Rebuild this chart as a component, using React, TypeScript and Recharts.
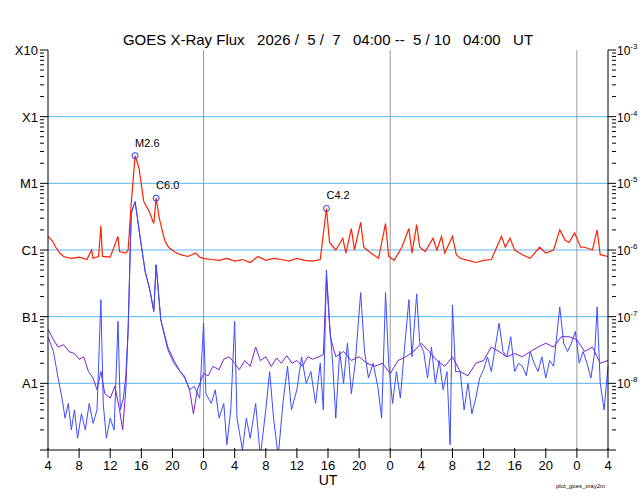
import { LineChart, Line, XAxis, YAxis, CartesianGrid, ReferenceLine, ReferenceDot } from 'recharts';

// [hours since 2026-05-07 04:00 UT, flux W/m^2 in given unit]
const longFlux: [number, number][] = [
  [0, 1.6], [0.5, 1.4], [1, 1.1], [1.5, 0.9], [2, 0.8], [3, 0.75], [4, 0.78], [5, 0.72], [5.6, 1.0], [5.8, 0.75],
  [6.5, 0.8], [6.8, 2.3], [7, 0.8], [8, 0.78], [9, 1.6], [9.2, 0.95], [10, 0.9], [10.3, 1.0], [10.7, 5], [11.2, 26],
  [11.7, 17], [12.3, 5.4], [13, 3.8], [13.6, 2.5], [13.9, 6.0], [14.3, 3.0], [15, 1.4], [15.5, 1.1], [16.2, 0.95], [17, 0.85],
  [18, 0.8], [19, 0.9], [19.5, 0.78], [20, 0.75], [21, 0.72], [22, 0.7], [23, 0.75], [24, 0.68], [25, 0.72], [26, 0.65],
  [27, 0.8], [28, 0.7], [29, 0.75], [30, 0.72], [31, 0.68], [32, 0.75], [33, 0.7], [34, 0.68], [35, 0.72], [35.8, 4.2],
  [36.2, 1.3], [37, 1.0], [37.9, 1.5], [38.3, 0.9], [39, 2.1], [39.4, 1.0], [40.2, 2.6], [40.6, 1.1], [41.5, 0.9], [42.5, 0.75],
  [43.4, 2.5], [43.8, 0.8], [44.5, 0.7], [45.5, 1.1], [46.4, 2.1], [46.8, 0.9], [47.4, 2.4], [47.8, 1.1], [48.5, 0.95], [49.5, 1.5],
  [50, 1.0], [50.6, 1.6], [51, 0.9], [52, 1.6], [52.5, 0.85], [53, 0.75], [54, 0.7], [55, 0.65], [56, 0.7], [57, 0.72],
  [58.3, 1.6], [58.8, 1.1], [59.4, 1.5], [60, 1.0], [61, 0.85], [62, 0.75], [63.2, 1.1], [64, 0.9], [65, 1.0], [65.8, 2.0],
  [66.5, 1.4], [67, 1.3], [67.7, 1.8], [68.5, 1.1], [69, 1.1], [70, 1.0], [70.6, 2.0], [71, 0.85], [72, 0.8],
];

const shortFlux: [number, number][] = [
  [0, 5], [0.7, 3], [1.3, 1.2], [1.8, 0.6], [2.2, 0.3], [2.6, 0.5], [3, 0.2], [3.4, 0.4], [3.8, 0.15], [4.3, 0.35],
  [4.8, 0.2], [5.3, 0.5], [5.8, 0.25], [6.3, 0.4], [6.8, 18], [7.1, 0.5], [7.5, 0.15], [8, 0.3], [8.5, 0.2], [9, 8.5],
  [9.3, 0.4], [9.7, 0.6], [10, 1.3], [10.3, 6.3], [10.7, 360], [11.2, 530], [11.9, 140], [12.5, 47], [13.1, 25], [13.6, 12],
  [13.9, 60], [14.5, 9], [15.4, 3.2], [16.2, 2], [17, 1.5], [17.5, 1.3], [18.2, 0.8], [18.8, 0.9], [19.5, 0.6], [20, 8],
  [20.3, 0.7], [21, 0.5], [21.5, 0.8], [22, 0.3], [22.6, 0.5], [23, 0.12], [23.5, 0.4], [24, 8.5], [24.3, 0.3], [25, 0.1],
  [25.5, 0.3], [26, 0.15], [26.7, 0.5], [27.3, 0.08], [28, 0.4], [28.5, 1.5], [29, 0.3], [29.6, 0.08], [30.2, 0.5], [30.8, 1.8],
  [31.3, 0.4], [32, 0.8], [32.6, 2.5], [33.2, 1], [33.8, 1.5], [34.4, 0.5], [35, 2], [35.4, 0.4], [35.8, 50], [36.2, 8],
  [36.6, 2], [37, 0.3], [37.5, 3], [38, 1], [38.5, 4], [39, 0.7], [39.5, 2], [40.2, 23], [40.7, 3], [41.2, 1.2],
  [41.8, 2], [42.4, 0.9], [42.9, 0.3], [43.4, 23], [43.8, 2], [44.3, 0.5], [44.8, 1.5], [45.3, 0.6], [45.8, 3], [46.4, 18],
  [46.8, 2.5], [47.4, 22], [47.8, 4], [48.3, 3], [48.8, 1.2], [49.3, 3.5], [49.8, 1], [50.3, 2.2], [50.8, 0.8], [51.3, 1.5],
  [51.7, 0.12], [52, 15], [52.4, 1.5], [53, 1.5], [53.5, 0.4], [54, 1], [54.5, 0.35], [55, 0.6], [55.5, 1.2], [56, 1.6],
  [56.5, 2.5], [57, 1.5], [58, 8], [58.5, 3], [59, 2.5], [59.5, 5], [60, 1.5], [60.5, 2], [61, 1.8], [61.5, 1.3],
  [62, 3], [62.5, 2], [63, 1.5], [63.5, 2.5], [64, 1.2], [64.5, 2.2], [65, 1.8], [65.8, 14], [66.3, 4], [66.8, 3],
  [67.3, 4], [67.8, 6], [68.3, 2], [68.8, 3], [69.3, 2], [69.8, 1.2], [70.3, 3], [70.6, 14], [71, 1], [71.5, 0.4], [72, 1.8],
];

const shortFlux2: [number, number][] = [
  [0, 6.5], [0.7, 4.5], [1.3, 3.5], [2, 3.8], [2.7, 3], [3.4, 2.8], [4, 2.3], [4.6, 2.5], [5.2, 1.5], [5.8, 1.2],
  [6.3, 0.8], [6.8, 1.5], [7.3, 0.7], [8, 0.6], [8.6, 0.9], [9.2, 0.4], [9.6, 0.2], [10, 0.8], [10.3, 6.3], [10.7, 360],
  [11.2, 530], [11.9, 140], [12.5, 47], [13.1, 25], [13.6, 12], [13.9, 60], [14.5, 9], [15.4, 3.5], [16.2, 2.2], [17, 1.5],
  [17.6, 1.2], [18.2, 0.8], [18.7, 0.35], [19.2, 0.8], [20, 1.4], [20.6, 1.3], [21.2, 1.8], [22, 1.6], [22.6, 2.3], [23.3, 2.5],
  [24, 2], [24.6, 1.6], [25.3, 2.2], [26, 1.8], [26.7, 3.5], [27.3, 2.2], [28, 2.5], [28.7, 1.8], [29.4, 2.4], [30, 2],
  [30.7, 2.6], [31.4, 2], [32, 2.2], [32.7, 1.8], [33.4, 2.5], [34, 2.3], [34.8, 2.5], [35.4, 2.7], [35.8, 40], [36.3, 5],
  [37, 2.5], [38, 3], [39, 2.2], [40, 2.5], [41, 2], [42, 1.8], [43, 2], [44, 1.4], [45, 2.2], [46, 2.5],
  [47, 3], [48, 4], [49, 3], [50, 2.2], [51, 1.8], [52, 2.5], [53, 1.5], [54, 1.3], [55, 2], [56, 2.2],
  [57, 3.5], [58, 3], [59, 2.5], [60, 2.8], [61, 2.5], [62, 3], [63, 3.5], [64, 4], [65, 3.5], [66, 5],
  [67, 5], [68, 4.5], [69, 3], [70, 3.5], [71, 2], [72, 2.2],
];

const flares = [
  { t: 11.2, flux: 2.6e-5, label: 'M2.6' },
  { t: 13.9, flux: 6.0e-6, label: 'C6.0' },
  { t: 35.8, flux: 4.2e-6, label: 'C4.2' },
];

const classLabels = ['A1', 'B1', 'C1', 'M1', 'X1', 'X10'];
const decades = [1e-8, 1e-7, 1e-6, 1e-5, 1e-4, 1e-3];
const dayStarts = [20, 44, 68];
const hourTicks = Array.from({ length: 19 }, (_, i) => i * 4);

const toRows = (pts: [number, number][], unit: number) => pts.map(([t, v]) => ({ t, v: v * unit }));
const longData = toRows(longFlux, 1e-6);
const shortData = toRows(shortFlux, 1e-8);
const short2Data = toRows(shortFlux2, 1e-8);

const minorTicks: number[] = [];
for (let e = -9; e < -3; e++) for (let m = 1; m < 10; m++) minorTicks.push(m * Math.pow(10, e));
minorTicks.push(1e-3);

const isDecade = (v: number) => Math.abs(Math.log10(v) - Math.round(Math.log10(v))) < 1e-6;

const LeftTick = (props: any) => {
  const { x, y, payload } = props;
  const v = payload.value;
  const dec = isDecade(v);
  const idx = decades.findIndex((d) => Math.abs(d - v) / d < 1e-6);
  return (
    <g>
      <line x1={x} x2={x + (dec ? 8 : 4)} y1={y} y2={y} stroke="#000" />
      {idx >= 0 && (
        <text x={x - 2} y={y + 5} textAnchor="end" fontSize={13} fill="#000">{classLabels[idx]}</text>
      )}
    </g>
  );
};

const RightTick = (props: any) => {
  const { x, y, payload } = props;
  const v = payload.value;
  const dec = isDecade(v);
  const exp = Math.round(Math.log10(v));
  return (
    <g>
      <line x1={x} x2={x - (dec ? 8 : 4)} y1={y} y2={y} stroke="#000" />
      {dec && exp >= -8 && (
        <text x={x + 1} y={y + 5} fontSize={12} fill="#000">
          10<tspan dy={-6} fontSize={8}>{exp}</tspan>
        </text>
      )}
    </g>
  );
};

const BottomTick = (props: any) => {
  const { x, y, payload } = props;
  return (
    <g>
      <line x1={x} x2={x} y1={y} y2={y - 10} stroke="#000" />
      <text x={x} y={y + 12} textAnchor="middle" fontSize={13} fill="#000">{(payload.value + 4) % 24}</text>
    </g>
  );
};

const FlareLabel = (text: string) => (props: any) => {
  const { viewBox } = props;
  const cx = viewBox.x + viewBox.width / 2;
  const cy = viewBox.y + viewBox.height / 2;
  return (
    <text x={cx} y={cy - 9} fontSize={11} fill="#000">{text}</text>
  );
};

export default function App() {
  return (
    <div style={{ position: 'absolute', left: 0, top: 0, width: 640, height: 500, background: '#fff', fontFamily: '"Liberation Sans", Arial, sans-serif' }}>
      <LineChart width={640} height={500} margin={{ top: 50, right: 0, bottom: 10, left: 8 }}>
        <CartesianGrid horizontal={false} vertical={false} />
        <XAxis
          dataKey="t"
          type="number"
          domain={[0, 72]}
          ticks={hourTicks}
          tick={<BottomTick />}
          tickLine={false}
          axisLine={{ stroke: '#000' }}
          height={40}
          allowDuplicatedCategory={false}
        />
        <XAxis xAxisId="top" orientation="top" type="number" domain={[0, 72]} tick={false} axisLine={{ stroke: '#000' }} height={0} />
        <YAxis
          yAxisId="l"
          scale="log"
          domain={[1e-9, 1e-3]}
          ticks={minorTicks}
          tick={<LeftTick />}
          tickLine={false}
          axisLine={{ stroke: '#000' }}
          width={40}
          allowDataOverflow
          interval={0}
        />
        <YAxis
          yAxisId="r"
          orientation="right"
          scale="log"
          domain={[1e-9, 1e-3]}
          ticks={minorTicks}
          tick={<RightTick />}
          tickLine={false}
          axisLine={{ stroke: '#000' }}
          width={32}
          allowDataOverflow
          interval={0}
        />
        {decades.slice(0, 5).map((d) => (
          <ReferenceLine key={d} yAxisId="l" y={d} stroke="#5ab4f0" strokeWidth={1} />
        ))}
        {dayStarts.map((t) => (
          <ReferenceLine key={t} yAxisId="l" x={t} stroke="#999" strokeWidth={1} />
        ))}
        <Line yAxisId="l" data={short2Data} dataKey="v" stroke="#7a1fd0" strokeWidth={1} dot={false} isAnimationActive={false} />
        <Line yAxisId="l" data={shortData} dataKey="v" stroke="#3c4cff" strokeWidth={1} dot={false} isAnimationActive={false} />
        <Line yAxisId="l" data={longData} dataKey="v" stroke="#ff2200" strokeWidth={1.2} dot={false} isAnimationActive={false} />
        {flares.map((f) => (
          <ReferenceDot
            key={f.label}
            yAxisId="l"
            x={f.t}
            y={f.flux}
            r={3}
            fill="none"
            stroke="#2233ff"
            label={FlareLabel(f.label)}
          />
        ))}
        <text x={328} y={45} textAnchor="middle" fontSize={15} fill="#000" style={{ whiteSpace: 'pre' }}>
          {'GOES X-Ray Flux   2026 /  5 /  7   04:00 --  5 / 10   04:00   UT'}
        </text>
        <text x={328} y={485} textAnchor="middle" fontSize={14} fill="#000">UT</text>
        <text x={605} y={488} textAnchor="end" fontSize={6} fill="#000">plot_goes_xray2m</text>
      </LineChart>
    </div>
  );
}
